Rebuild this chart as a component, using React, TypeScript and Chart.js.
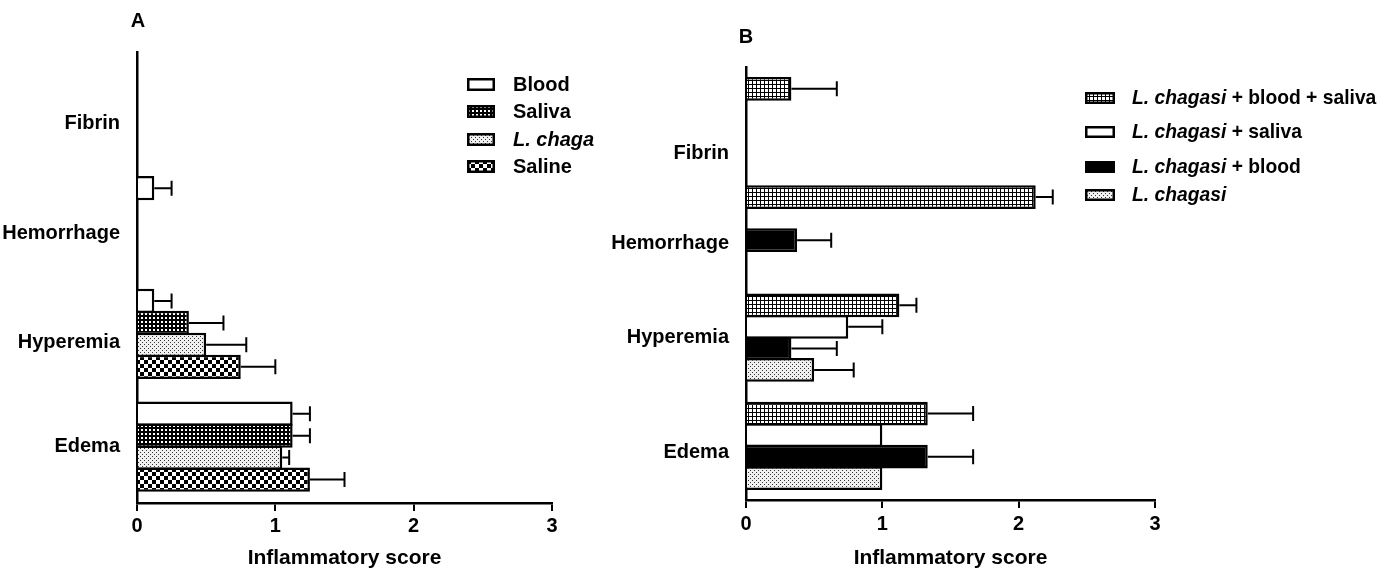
import React, { useEffect, useRef } from 'react';
import { Chart, registerables } from 'chart.js';

Chart.register(...registerables);

// ---------------- data ----------------
const categories = ['Fibrin', 'Hemorrhage', 'Hyperemia', 'Edema'];
const xTickMin = 0;
const xTickMax = 3;
const xTickStep = 1;
const axisTitle = 'Inflammatory score';

// Panel A
const seriesNamesA = ['Blood', 'Saliva', 'L. chaga', 'Saline'];
const bloodA = [0, 0.125, 0.125, 1.125];
const bloodErrA = [0, 0.125, 0.125, 0.125];
const salivaA = [0, 0, 0.375, 1.125];
const salivaErrA = [0, 0, 0.25, 0.125];
const lchagaA = [0, 0, 0.5, 1.05];
const lchagaErrA = [0, 0, 0.29, 0.05];
const salineA = [0, 0, 0.75, 1.25];
const salineErrA = [0, 0, 0.25, 0.25];

// Panel B
const seriesNamesB = [
  'L. chagasi + blood + saliva',
  'L. chagasi + saliva',
  'L. chagasi + blood',
  'L. chagasi',
];
const comboB = [0.333, 2.125, 1.125, 1.333];
const comboErrB = [0.333, 0.125, 0.125, 0.333];
const salivaB = [0, 0, 0.75, 1.0];
const salivaErrB = [0, 0, 0.25, 0];
const bloodB = [0, 0.375, 0.333, 1.333];
const bloodErrB = [0, 0.25, 0.333, 0.333];
const lchagasiB = [0, 0, 0.5, 1.0];
const lchagasiErrB = [0, 0, 0.29, 0];

// ---------------- styles ----------------
const FONT = '"Liberation Sans", Arial, Helvetica, sans-serif';

type PatternKind = 'white' | 'black' | 'darkGrid' | 'lightGrid' | 'dots' | 'checker';

function makeFill(kind: PatternKind): CanvasPattern | string {
  if (kind === 'white') return '#ffffff';
  if (kind === 'black') return '#000000';
  const c = document.createElement('canvas');
  const g = c.getContext('2d')!;
  if (kind === 'darkGrid') {
    c.width = 4; c.height = 4;
    g.fillStyle = '#000'; g.fillRect(0, 0, 4, 4);
    g.fillStyle = '#fff'; g.fillRect(1, 1, 2, 2);
  } else if (kind === 'lightGrid') {
    c.width = 4; c.height = 4;
    g.fillStyle = '#fff'; g.fillRect(0, 0, 4, 4);
    g.fillStyle = '#000'; g.fillRect(0, 0, 4, 1); g.fillRect(0, 0, 1, 4);
  } else if (kind === 'dots') {
    c.width = 4; c.height = 4;
    g.fillStyle = '#f0f0f0'; g.fillRect(0, 0, 4, 4);
    g.fillStyle = '#333'; g.fillRect(0, 0, 1, 1); g.fillRect(2, 2, 1, 1);
  } else if (kind === 'checker') {
    c.width = 8; c.height = 8;
    g.fillStyle = '#fff'; g.fillRect(0, 0, 8, 8);
    g.fillStyle = '#000'; g.fillRect(0, 0, 4, 4); g.fillRect(4, 4, 4, 4);
  }
  return g.createPattern(c, 'repeat')!;
}

const errorBarPlugin = {
  id: 'errorBars',
  afterDatasetsDraw(chart: any) {
    const ctx = chart.ctx as CanvasRenderingContext2D;
    const xScale = chart.scales.x;
    chart.data.datasets.forEach((ds: any, di: number) => {
      const meta = chart.getDatasetMeta(di);
      meta.data.forEach((el: any, i: number) => {
        const v = ds.data[i];
        const e = ds.errors[i];
        if (!v || !e) return;
        const x0 = el.x;
        const y = el.y;
        const x1 = xScale.getPixelForValue(v + e);
        const cap = 15;
        ctx.save();
        ctx.strokeStyle = '#000';
        ctx.lineWidth = 2;
        ctx.beginPath();
        ctx.moveTo(x0, y);
        ctx.lineTo(x1, y);
        ctx.moveTo(x1, y - cap / 2);
        ctx.lineTo(x1, y + cap / 2);
        ctx.stroke();
        ctx.restore();
      });
    });
  },
};

// Draws the category names next to the y axis, each with its own vertical nudge
const categoryLabelPlugin = {
  id: 'categoryLabels',
  afterDraw(chart: any, _args: any, opts: any) {
    const ctx = chart.ctx as CanvasRenderingContext2D;
    const yScale = chart.scales.y;
    const labels: string[] = chart.data.labels;
    ctx.save();
    ctx.font = `bold 20px ${FONT}`;
    ctx.fillStyle = '#000';
    ctx.textAlign = 'right';
    ctx.textBaseline = 'middle';
    labels.forEach((lab, i) => {
      const y = yScale.getPixelForValue(i) + (opts.offsets[i] || 0);
      ctx.fillText(lab, chart.chartArea.left - opts.padding, y);
    });
    ctx.restore();
  },
};

interface SeriesSpec {
  name: string;
  values: number[];
  errors: number[];
  fill: PatternKind;
}

interface PanelProps {
  left: number;
  width: number;
  height: number;
  areaLeft: number;
  areaRight: number;
  areaTop: number;
  areaBottom: number;
  series: SeriesSpec[];
  labelOffsets: number[];
  categoryPercentage: number;
  tickPadding: number;
}

function BarPanel(p: PanelProps) {
  const ref = useRef<HTMLCanvasElement | null>(null);
  useEffect(() => {
    if (!ref.current) return;
    const datasets = p.series.map((s) => ({
      label: s.name,
      data: s.values.map((v) => (v === 0 ? null : v)),
      errors: s.errors,
      backgroundColor: makeFill(s.fill),
      borderColor: '#000',
      borderWidth: 2.5,
      categoryPercentage: p.categoryPercentage,
      barPercentage: 1.1,
    }));
    const chart = new Chart(ref.current, {
      type: 'bar',
      data: { labels: categories, datasets: datasets as any },
      plugins: [errorBarPlugin, categoryLabelPlugin],
      options: {
        indexAxis: 'y',
        responsive: false,
        animation: false,
        layout: {
          padding: {
            left: 0,
            top: p.areaTop,
            right: p.width - p.areaRight,
            bottom: 0,
          },
        },
        plugins: {
          legend: { display: false },
          tooltip: { enabled: false },
          title: { display: false },
          categoryLabels: { offsets: p.labelOffsets, padding: 17 },
        },
        scales: {
          x: {
            type: 'linear',
            min: xTickMin,
            max: xTickMax,
            ticks: {
              stepSize: xTickStep,
              color: '#000',
              padding: p.tickPadding,
              font: { family: FONT, size: 20, weight: 'bold' },
            },
            grid: {
              display: true,
              drawOnChartArea: false,
              drawTicks: true,
              tickLength: 8,
              color: '#000',
              lineWidth: 2,
            },
            border: { display: true, color: '#000', width: 2.5 },
            title: {
              display: true,
              text: axisTitle,
              color: '#000',
              font: { family: FONT, size: 21, weight: 'bold' },
              padding: { top: 0, bottom: 2 },
            },
            afterFit: (scale: any) => {
              scale.height = p.height - p.areaBottom;
            },
          },
          y: {
            type: 'category',
            grid: { display: false, drawTicks: false },
            border: { display: true, color: '#000', width: 2.5 },
            ticks: { display: false },
            afterFit: (scale: any) => {
              scale.width = p.areaLeft;
            },
          },
        },
      } as any,
    });
    return () => chart.destroy();
  }, []);
  return (
    <canvas
      ref={ref}
      width={p.width}
      height={p.height}
      style={{ position: 'absolute', left: p.left, top: 0, width: p.width, height: p.height }}
    />
  );
}

function Swatch({ kind, w, h }: { kind: PatternKind; w: number; h: number }) {
  const ref = useRef<HTMLCanvasElement | null>(null);
  useEffect(() => {
    const c = ref.current;
    if (!c) return;
    const g = c.getContext('2d')!;
    g.clearRect(0, 0, w, h);
    g.fillStyle = makeFill(kind) as any;
    g.fillRect(0, 0, w, h);
    g.strokeStyle = '#000';
    g.lineWidth = 2.5;
    g.strokeRect(1.25, 1.25, w - 2.5, h - 2.5);
  }, [kind, w, h]);
  return <canvas ref={ref} width={w} height={h} style={{ width: w, height: h, display: 'block' }} />;
}

function LegendRow({
  left, centerY, kind, w, h, gap, size, children,
}: {
  left: number; centerY: number; kind: PatternKind; w: number; h: number; gap: number; size: number; children: React.ReactNode;
}) {
  return (
    <div
      style={{
        position: 'absolute',
        left,
        top: centerY - 12,
        height: 24,
        lineHeight: '24px',
        display: 'flex',
        alignItems: 'center',
        whiteSpace: 'nowrap',
        fontFamily: FONT,
        fontWeight: 'bold',
        fontSize: size,
        color: '#000',
      }}
    >
      <Swatch kind={kind} w={w} h={h} />
      <span style={{ marginLeft: gap }}>{children}</span>
    </div>
  );
}

function renderName(name: string) {
  const m = name.match(/^(L\. chaga(?:si)?)(.*)$/);
  if (m) {
    return (
      <>
        <i>{m[1]}</i>
        {m[2]}
      </>
    );
  }
  return name;
}

export default function App() {
  const seriesA: SeriesSpec[] = [
    { name: seriesNamesA[0], values: bloodA, errors: bloodErrA, fill: 'white' },
    { name: seriesNamesA[1], values: salivaA, errors: salivaErrA, fill: 'darkGrid' },
    { name: seriesNamesA[2], values: lchagaA, errors: lchagaErrA, fill: 'dots' },
    { name: seriesNamesA[3], values: salineA, errors: salineErrA, fill: 'checker' },
  ];
  const seriesB: SeriesSpec[] = [
    { name: seriesNamesB[0], values: comboB, errors: comboErrB, fill: 'lightGrid' },
    { name: seriesNamesB[1], values: salivaB, errors: salivaErrB, fill: 'white' },
    { name: seriesNamesB[2], values: bloodB, errors: bloodErrB, fill: 'black' },
    { name: seriesNamesB[3], values: lchagasiB, errors: lchagasiErrB, fill: 'dots' },
  ];
  const legendAY = [84, 111, 139, 166];
  const legendBY = [98, 132, 167, 195];
  const panelLabelStyle: React.CSSProperties = {
    position: 'absolute',
    width: 30,
    textAlign: 'center',
    fontFamily: FONT,
    fontWeight: 'bold',
    fontSize: 20,
    lineHeight: '20px',
    color: '#000',
  };
  return (
    <div
      style={{
        position: 'absolute',
        left: 0,
        top: 0,
        width: 1392,
        height: 573,
        background: '#fff',
        overflow: 'hidden',
      }}
    >
      <BarPanel
        left={0}
        width={600}
        height={573}
        areaLeft={137}
        areaRight={552}
        areaTop={52}
        areaBottom={503}
        series={seriesA}
        labelOffsets={[15, 12, 9, 0]}
        categoryPercentage={0.78}
        tickPadding={3}
      />
      <BarPanel
        left={600}
        width={792}
        height={573}
        areaLeft={146}
        areaRight={555}
        areaTop={67}
        areaBottom={500}
        series={seriesB}
        labelOffsets={[32, 14, 0, 7]}
        categoryPercentage={0.795}
        tickPadding={4}
      />
      <div style={{ ...panelLabelStyle, left: 123, top: 10 }}>A</div>
      <div style={{ ...panelLabelStyle, left: 731, top: 26 }}>B</div>
      {seriesA.map((s, i) => (
        <LegendRow key={s.name} left={467} centerY={legendAY[i]} kind={s.fill} w={28} h={13} gap={18} size={20}>
          {renderName(s.name)}
        </LegendRow>
      ))}
      {seriesB.map((s, i) => (
        <LegendRow key={s.name} left={1085} centerY={legendBY[i]} kind={s.fill} w={30} h={12} gap={17} size={19.3}>
          {renderName(s.name)}
        </LegendRow>
      ))}
    </div>
  );
}
